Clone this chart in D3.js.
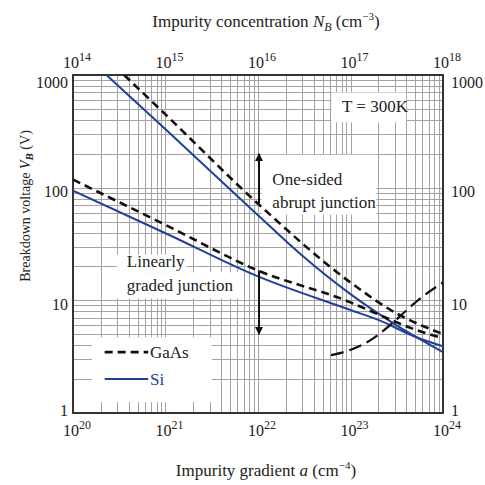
<!DOCTYPE html>
<html lang="en">
<head>
<meta charset="utf-8">
<title>Breakdown voltage vs impurity</title>
<script src="https://cdn.jsdelivr.net/npm/d3@7"></script>
<style>
body { margin: 0; background: #fff; }
svg { font-family: "Liberation Serif", "DejaVu Serif", serif; fill: #222; }
.grid line { stroke: #a3a3a3; stroke-width: 1; shape-rendering: crispEdges; }
.stub line { stroke: #a3a3a3; stroke-width: 1; shape-rendering: crispEdges; }
.frame { fill: none; stroke: #333; stroke-width: 1.6; shape-rendering: crispEdges; }
.si { fill: none; stroke: #22409a; stroke-width: 2; }
.gaas { fill: none; stroke: #111; stroke-width: 2.6; stroke-dasharray: 8 5; }
.tunnel { fill: none; stroke: #111; stroke-width: 2.2; stroke-dasharray: 13 6; }
.arrow { stroke: #111; stroke-width: 2; }
.tick { font-size: 16px; }
.label { font-size: 17px; }
</style>
</head>
<body>
<div id="chart"></div>
<script>
// axis ticks
var topTicks = [1e14, 1e15, 1e16, 1e17, 1e18];
var bottomTicks = [1e20, 1e21, 1e22, 1e23, 1e24];
var yTicks = [1, 10, 100, 1000];

// one-sided abrupt junction, read against the top axis N_B (cm^-3)
var abruptSiN = [2.3e14, 1e15, 1e16, 3e16, 1e17, 3e17, 1e18];
var abruptSiV = [1000, 330, 57, 25, 11.35, 6.15, 3.47];
var abruptGaAsN = [3.57e14, 1e15, 1e16, 1e17, 3e17, 1e18];
var abruptGaAsV = [1000, 446, 72, 14.4, 7.83, 5.02];

// linearly graded junction, read against the bottom axis a (cm^-4)
var gradedA = [1e20, 1e21, 1e22, 1e23, 2e23, 5e23, 1e24];
var gradedSiV = [94, 39.4, 16.3, 8.2, 6.7, 4.75, 3.9];
var gradedGaAsV = [118, 46.7, 18.4, 9.6, 7.5, 5.5, 4.6];

// long dashed boundary curve (top axis)
var tunnelN = [6.15e16, 1.04e17, 1.71e17, 2.62e17, 3.61e17, 5.51e17, 1e18];
var tunnelV = [3.26, 3.68, 4.52, 5.93, 7.52, 10.2, 14.4];

var margin = {top: 75, right: 42, bottom: 72, left: 73};
var width = 485 - margin.left - margin.right;
var height = 485 - margin.top - margin.bottom;

var xTop = d3.scaleLog().domain([1e14, 1e18]).range([0, width]);
var xBot = d3.scaleLog().domain([1e20, 1e24]).range([0, width]);
var y = d3.scaleLog().domain([1, 1000]).range([height, 0]);

var svg = d3.select("#chart").append("svg")
    .attr("width", 485)
    .attr("height", 485);

var g = svg.append("g")
    .attr("transform", "translate(" + margin.left + "," + margin.top + ")");

// minor + major grid positions
function logGrid(lo, hi) {
  var out = [];
  for (var d = lo; d < hi; d *= 10) {
    for (var k = 1; k < 10; k++) out.push(k * d);
  }
  return out;
}
var xGrid = logGrid(1e20, 1e24);
var yGrid = logGrid(1, 1000);

var grid = g.append("g").attr("class", "grid");
grid.selectAll(".vx").data(xGrid).enter().append("line")
    .attr("x1", function(d) { return Math.round(xBot(d)) + 0.5; })
    .attr("x2", function(d) { return Math.round(xBot(d)) + 0.5; })
    .attr("y1", 0).attr("y2", height);
grid.selectAll(".hy").data(yGrid).enter().append("line")
    .attr("y1", function(d) { return Math.round(y(d)) + 0.5; })
    .attr("y2", function(d) { return Math.round(y(d)) + 0.5; })
    .attr("x1", 0).attr("x2", width);

// white label boxes covering the grid (bottom-axis units)
var boxes = [
  {x0: 6.2e22, x1: 4e23, y0: 700, y1: 380},   // T = 300K
  {x0: 1.09e22, x1: 1.9e23, y0: 196, y1: 57.7}, // one-sided abrupt
  {x0: 2.98e20, x1: 1.69e21, y0: 25.5, y1: 17.7}, // Linearly
  {x0: 2.98e20, x1: 6.3e21, y0: 17.7, y1: 10.4},  // graded junction
  {x0: 1.6e20, x1: 3.16e21, y0: 4.7, y1: 1.25}    // legend
];
g.append("g").selectAll("rect").data(boxes).enter().append("rect")
    .attr("x", function(d) { return xBot(d.x0); })
    .attr("y", function(d) { return y(d.y0); })
    .attr("width", function(d) { return xBot(d.x1) - xBot(d.x0); })
    .attr("height", function(d) { return y(d.y1) - y(d.y0); })
    .attr("fill", "#fff");

// inner tick stubs on every side
var stub = g.append("g").attr("class", "stub");
xGrid.forEach(function(d) {
  var px = Math.round(xBot(d)) + 0.5;
  stub.append("line").attr("x1", px).attr("x2", px).attr("y1", height).attr("y2", height - 10);
  stub.append("line").attr("x1", px).attr("x2", px).attr("y1", 0).attr("y2", 10);
});
yGrid.forEach(function(d) {
  var py = Math.round(y(d)) + 0.5;
  stub.append("line").attr("y1", py).attr("y2", py).attr("x1", 0).attr("x2", 10);
  stub.append("line").attr("y1", py).attr("y2", py).attr("x1", width).attr("x2", width - 10);
});

g.append("rect").attr("class", "frame")
    .attr("x", 0).attr("y", 0).attr("width", width).attr("height", height);

// curves
g.append("clipPath").attr("id", "clip")
  .append("rect").attr("width", width).attr("height", height);

function curve(xs, vs, sx) {
  return d3.line().curve(d3.curveMonotoneX)(xs.map(function(d, i) { return [sx(d), y(vs[i])]; }));
}
var plot = g.append("g").attr("clip-path", "url(#clip)");
plot.append("path").attr("class", "si").attr("d", curve(abruptSiN, abruptSiV, xTop));
plot.append("path").attr("class", "si").attr("d", curve(gradedA, gradedSiV, xBot));
plot.append("path").attr("class", "gaas").attr("d", curve(abruptGaAsN, abruptGaAsV, xTop));
plot.append("path").attr("class", "gaas").attr("d", curve(gradedA, gradedGaAsV, xBot));
plot.append("path").attr("class", "tunnel").attr("d", curve(tunnelN, tunnelV, xTop));

// arrows
svg.append("defs").append("marker")
    .attr("id", "head")
    .attr("viewBox", "0 0 10 10")
    .attr("refX", 9).attr("refY", 5)
    .attr("markerWidth", 4).attr("markerHeight", 6)
    .attr("markerUnits", "strokeWidth")
    .attr("orient", "auto")
  .append("path").attr("d", "M0,0L10,5L0,10z").attr("fill", "#111");

var arrows = [
  {x: 1e22, from: 72, to: 200},
  {x: 1e22, from: 18.4, to: 5}
];
g.selectAll(".arrow").data(arrows).enter().append("line")
    .attr("class", "arrow")
    .attr("x1", function(d) { return xBot(d.x) + 1; })
    .attr("x2", function(d) { return xBot(d.x) + 1; })
    .attr("y1", function(d) { return y(d.from); })
    .attr("y2", function(d) { return y(d.to); })
    .attr("marker-end", "url(#head)");

// tick labels
function powLabel(sel, exp) {
  sel.append("tspan").text("10");
  sel.append("tspan").attr("dy", -7).attr("font-size", 12).text(exp);
}
topTicks.forEach(function(d) {
  var t = svg.append("text").attr("class", "tick")
      .attr("x", margin.left + xTop(d) + 4).attr("y", 68)
      .attr("text-anchor", "middle");
  powLabel(t, Math.round(Math.log10(d)));
});
bottomTicks.forEach(function(d) {
  var t = svg.append("text").attr("class", "tick")
      .attr("x", margin.left + xBot(d) + 4).attr("y", 436)
      .attr("text-anchor", "middle");
  powLabel(t, Math.round(Math.log10(d)));
});
yTicks.forEach(function(d) {
  var py = margin.top + y(d) + (d === 1 ? -3 : d === 1000 ? 7 : 4);
  svg.append("text").attr("class", "tick")
      .attr("x", 68).attr("y", py).attr("dy", "0.35em")
      .attr("text-anchor", "end").text(d);
  svg.append("text").attr("class", "tick")
      .attr("x", 451).attr("y", py).attr("dy", "0.35em")
      .text(d);
});

// axis titles
var tt = svg.append("text").attr("class", "label")
    .attr("x", 266).attr("y", 27).attr("text-anchor", "middle")
    .attr("font-size", 16);
tt.append("tspan").text("Impurity concentration ");
tt.append("tspan").attr("font-style", "italic").text("N");
tt.append("tspan").attr("font-style", "italic").attr("font-size", 12).attr("dy", 4).text("B");
tt.append("tspan").attr("dy", -4).text(" (cm");
tt.append("tspan").attr("font-size", 11).attr("dy", -7).text("\u22123");
tt.append("tspan").attr("dy", 7).text(")");

var bt = svg.append("text").attr("class", "label")
    .attr("x", 266).attr("y", 476).attr("text-anchor", "middle");
bt.append("tspan").text("Impurity gradient ");
bt.append("tspan").attr("font-style", "italic").text("a");
bt.append("tspan").text(" (cm");
bt.append("tspan").attr("font-size", 11).attr("dy", -7).text("\u22124");
bt.append("tspan").attr("dy", 7).text(")");

var yt = svg.append("text")
    .attr("transform", "translate(30,206)rotate(-90)")
    .attr("text-anchor", "middle")
    .attr("font-size", 14);
yt.append("tspan").text("Breakdown voltage ");
yt.append("tspan").attr("font-style", "italic").text("V");
yt.append("tspan").attr("font-style", "italic").attr("font-weight", "bold").attr("font-size", 11).attr("dy", 3).text("B");
yt.append("tspan").attr("dy", -3).text(" (V)");

// annotations (baseline positions, bottom-axis units)
var notes = [
  {x: 8.1e22, v: 471, text: "T = 300K"},
  {x: 1.43e22, v: 106, text: "One-sided"},
  {x: 1.43e22, v: 66.5, text: "abrupt junction"},
  {x: 3.82e20, v: 19.6, text: "Linearly"},
  {x: 3.82e20, v: 12.0, text: "graded junction"}
];
g.selectAll(".note").data(notes).enter().append("text")
    .attr("class", "label")
    .attr("x", function(d) { return xBot(d.x); })
    .attr("y", function(d) { return y(d.v); })
    .text(function(d) { return d.text; });

// legend
var legend = [
  {name: "GaAs", cls: "gaas", v: 3.47, color: "#222"},
  {name: "Si", cls: "si", v: 2.0, color: "#22409a"}
];
var lg = g.selectAll(".lg").data(legend).enter().append("g");
lg.append("line")
    .attr("class", function(d) { return d.cls; })
    .attr("x1", xBot(2.2e20)).attr("x2", xBot(6.5e20))
    .attr("y1", function(d) { return y(d.v); })
    .attr("y2", function(d) { return y(d.v); });
lg.append("text").attr("class", "label")
    .attr("x", xBot(6.8e20))
    .attr("y", function(d) { return y(d.v); })
    .attr("dy", "0.35em")
    .attr("fill", function(d) { return d.color; })
    .text(function(d) { return d.name; });
</script>
</body>
</html>
